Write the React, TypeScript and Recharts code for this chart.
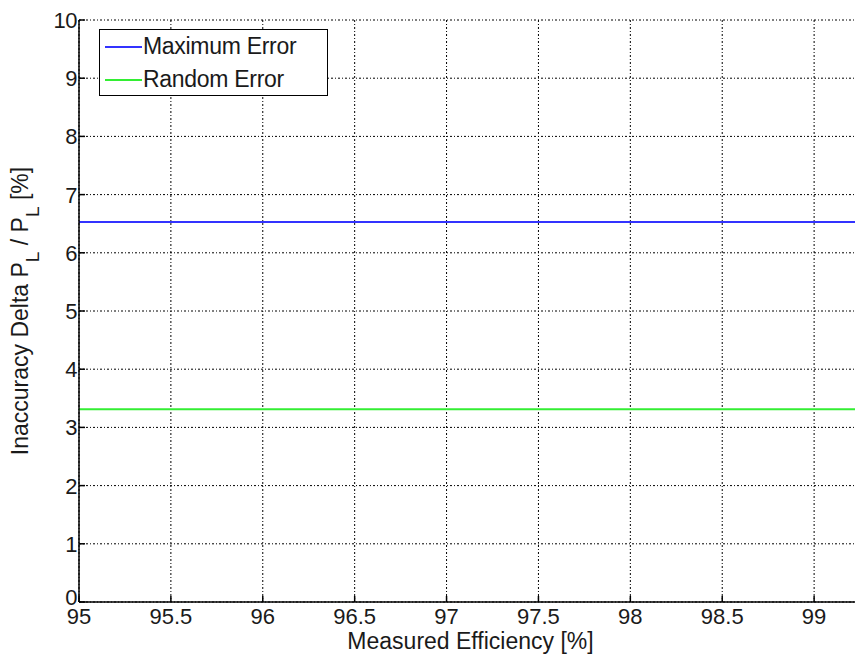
import { LineChart, Line, XAxis, YAxis, CartesianGrid } from 'recharts';

// measured efficiency [%] along the x axis (plot is cropped on the right)
const efficiency = [95, 95.5, 96, 96.5, 97, 97.5, 98, 98.5, 99, 99.5];
const maximumError = [6.53, 6.53, 6.53, 6.53, 6.53, 6.53, 6.53, 6.53, 6.53, 6.53];
const randomError = [3.31, 3.31, 3.31, 3.31, 3.31, 3.31, 3.31, 3.31, 3.31, 3.31];

const xTicks = [95, 95.5, 96, 96.5, 97, 97.5, 98, 98.5, 99];
const yTicks = [0, 1, 2, 3, 4, 5, 6, 7, 8, 9, 10];

const series = [
  { key: 'maxErr', name: 'Maximum Error', color: '#3333ff' },
  { key: 'randErr', name: 'Random Error', color: '#33ee33' },
];

const data = efficiency.map((e, i) => ({
  efficiency: e,
  maxErr: maximumError[i],
  randErr: randomError[i],
}));

const font = '"Liberation Sans", Arial, sans-serif';
const ink = '#1a1a1a';

const BottomTick = ({ x, y, payload }: any) => (
  <g>
    <line x1={x} x2={x} y1={y} y2={y - 6} stroke="#000" strokeWidth={1.5} />
    <text x={x} y={y + 22} textAnchor="middle" fontSize={22} fontFamily={font} fill={ink}>
      {payload.value}
    </text>
  </g>
);

const TopTick = ({ x, y }: any) => (
  <line x1={x} x2={x} y1={y} y2={y + 6} stroke="#000" strokeWidth={1.5} />
);

const LeftTick = ({ x, y, payload }: any) => (
  <g>
    <line x1={x} x2={x + 6} y1={y} y2={y} stroke="#000" strokeWidth={1.5} />
    <text
      x={x - 2}
      y={payload.value === 0 ? y + 3 : y + 8}
      textAnchor="end"
      fontSize={22}
      fontFamily={font}
      fill={ink}
      letterSpacing={-0.5}
    >
      {payload.value}
    </text>
  </g>
);

const XLabel = ({ viewBox }: any) => (
  <text
    x={viewBox.x + viewBox.width / 2 - 22}
    y={viewBox.y + 47}
    textAnchor="middle"
    fontSize={23}
    fontFamily={font}
    fill={ink}
  >
    Measured Efficiency [%]
  </text>
);

const YLabel = ({ viewBox }: any) => {
  const cx = 28;
  const cy = viewBox.y + viewBox.height / 2;
  return (
    <text
      x={cx}
      y={cy}
      transform={`rotate(-90 ${cx} ${cy})`}
      textAnchor="middle"
      fontSize={23}
      fontFamily={font}
      fill={ink}
    >
      Inaccuracy Delta P
      <tspan dy={11} fontSize={19}>L</tspan>
      <tspan dy={-11}> / P</tspan>
      <tspan dy={11} fontSize={19}>L</tspan>
      <tspan dy={-11}>  [%]</tspan>
    </text>
  );
};

export default function App() {
  return (
    <div
      style={{
        position: 'absolute',
        left: 0,
        top: 0,
        width: 855,
        height: 655,
        overflow: 'hidden',
        background: '#fff',
      }}
    >
      <LineChart width={920} height={655} data={data} margin={{ top: 20, right: 14, bottom: 0, left: 0 }}>
        <CartesianGrid stroke="#000" strokeDasharray="2 2 1 2" strokeWidth={1} />
        <XAxis
          dataKey="efficiency"
          type="number"
          domain={[95, 99.5]}
          ticks={xTicks}
          height={53}
          tickSize={0}
          tickMargin={0}
          tick={<BottomTick />}
          axisLine={{ stroke: '#000', strokeWidth: 1.5 }}
          label={<XLabel />}
        />
        <XAxis
          xAxisId="top"
          orientation="top"
          dataKey="efficiency"
          type="number"
          domain={[95, 99.5]}
          ticks={xTicks}
          height={0}
          tickSize={0}
          tickMargin={0}
          tick={<TopTick />}
          axisLine={{ stroke: '#000', strokeWidth: 1.5 }}
        />
        <YAxis
          type="number"
          domain={[0, 10]}
          ticks={yTicks}
          width={79}
          tickSize={0}
          tickMargin={0}
          tick={<LeftTick />}
          axisLine={{ stroke: '#000', strokeWidth: 1.5 }}
          label={<YLabel />}
        />
        {series.map((s) => (
          <Line
            key={s.key}
            dataKey={s.key}
            name={s.name}
            stroke={s.color}
            strokeWidth={2}
            dot={false}
            activeDot={false}
            isAnimationActive={false}
          />
        ))}
      </LineChart>
      <div
        style={{
          position: 'absolute',
          left: 99,
          top: 29,
          width: 227,
          height: 65,
          border: '1.5px solid #000',
          background: '#fff',
          fontFamily: font,
          fontSize: 23,
          color: ink,
          letterSpacing: -0.3,
        }}
      >
        {series.map((s, i) => (
          <div
            key={s.key}
            style={{ position: 'absolute', left: 5, top: 3 + i * 33, height: 27, display: 'flex', alignItems: 'center' }}
          >
            <span style={{ display: 'inline-block', width: 37, height: 2, background: s.color, marginRight: 1 }} />
            <span>{s.name}</span>
          </div>
        ))}
      </div>
    </div>
  );
}
